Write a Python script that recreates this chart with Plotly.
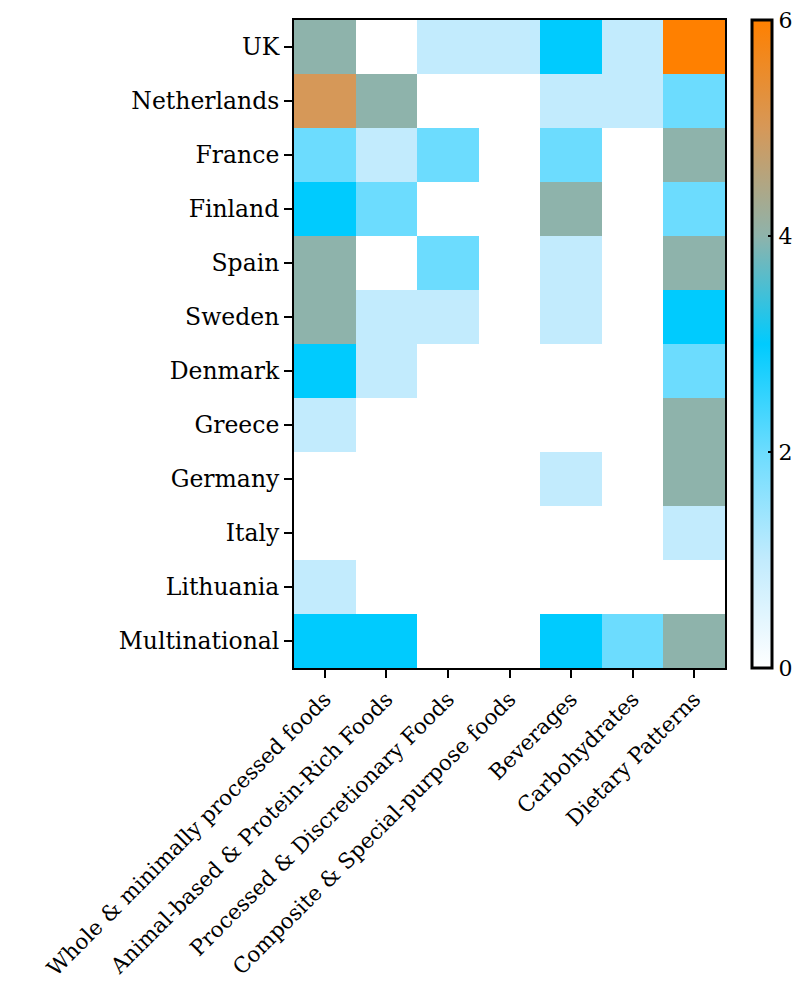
import plotly.graph_objects as go

countries = ["UK", "Netherlands", "France", "Finland", "Spain", "Sweden",
             "Denmark", "Greece", "Germany", "Italy", "Lithuania", "Multinational"]
food_groups = ["Whole & minimally processed foods",
               "Animal-based & Protein-Rich Foods",
               "Processed & Discretionary Foods",
               "Composite & Special-purpose foods",
               "Beverages", "Carbohydrates", "Dietary Patterns"]

# number of studies per country (rows) and food group (columns)
uk            = [4, 0, 1, 1, 3, 1, 6]
netherlands   = [5, 4, 0, 0, 1, 1, 2]
france        = [2, 1, 2, 0, 2, 0, 4]
finland       = [3, 2, 0, 0, 4, 0, 2]
spain         = [4, 0, 2, 0, 1, 0, 4]
sweden        = [4, 1, 1, 0, 1, 0, 3]
denmark       = [3, 1, 0, 0, 0, 0, 2]
greece        = [1, 0, 0, 0, 0, 0, 4]
germany       = [0, 0, 0, 0, 1, 0, 4]
italy         = [0, 0, 0, 0, 0, 0, 1]
lithuania     = [1, 0, 0, 0, 0, 0, 0]
multinational = [3, 3, 0, 0, 3, 2, 4]

counts = [uk, netherlands, france, finland, spain, sweden, denmark,
          greece, germany, italy, lithuania, multinational]

colorbar_ticks = [0, 2, 4, 6]

colorscale = [
    [0 / 6, "#ffffff"],
    [1 / 6, "#c2ebfd"],
    [2 / 6, "#6cdcfe"],
    [3 / 6, "#00cbfe"],
    [4 / 6, "#8eb3ab"],
    [5 / 6, "#d69858"],
    [6 / 6, "#ff8000"],
]

FONT = "DejaVu Serif"

fig = go.Figure(
    go.Heatmap(
        z=counts,
        x=food_groups,
        y=countries,
        zmin=0,
        zmax=6,
        colorscale=colorscale,
        colorbar=dict(
            x=1.063,
            xanchor="left",
            y=1,
            yanchor="top",
            len=648,
            lenmode="pixels",
            thickness=20,
            thicknessmode="pixels",
            outlinewidth=3,
            outlinecolor="black",
            tickvals=colorbar_ticks,
            ticks="inside",
            ticklen=5,
            tickwidth=2,
            tickcolor="black",
            tickfont=dict(family=FONT, size=22, color="black"),
            xpad=0,
            ypad=0,
        ),
        hoverongaps=False,
    )
)

fig.update_layout(
    width=799,
    height=1005,
    margin=dict(l=294, r=74, t=20, b=337, autoexpand=False),
    paper_bgcolor="white",
    plot_bgcolor="white",
    font=dict(family=FONT, color="black"),
)

fig.update_xaxes(
    tickangle=-45,
    tickfont=dict(family=FONT, size=21.5, color="black"),
    ticks="outside",
    ticklen=8,
    tickwidth=2,
    tickcolor="black",
    showline=True,
    linewidth=2,
    linecolor="black",
    mirror=True,
    showgrid=False,
    zeroline=False,
)

fig.update_yaxes(
    autorange="reversed",
    tickfont=dict(family=FONT, size=23.5, color="black"),
    ticks="outside",
    ticklen=8,
    tickwidth=2,
    tickcolor="black",
    showline=True,
    linewidth=2,
    linecolor="black",
    mirror=True,
    showgrid=False,
    zeroline=False,
)

fig.write_html("out.html")
